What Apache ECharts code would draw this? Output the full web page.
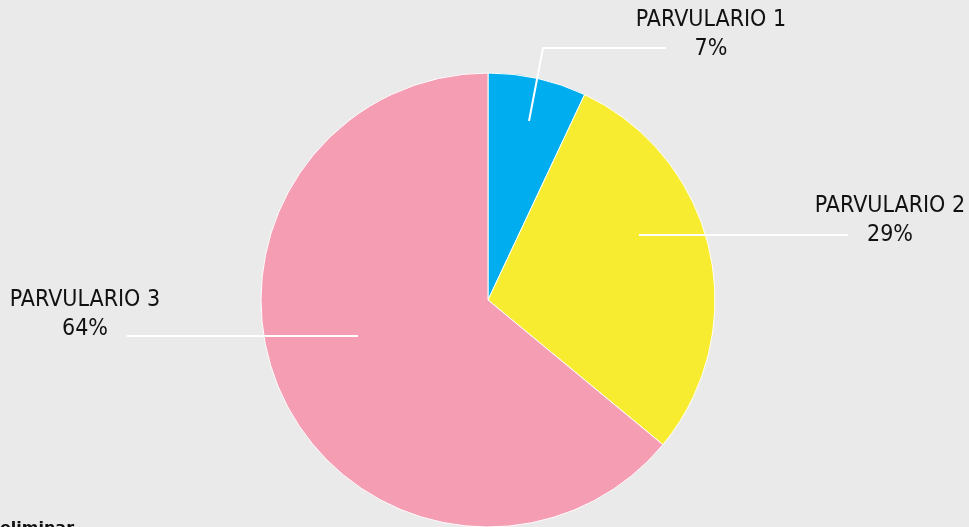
<!DOCTYPE html>
<html>
<head>
<meta charset="utf-8">
<script src="https://cdn.jsdelivr.net/npm/echarts@6/dist/echarts.min.js"></script>
<style>
  html, body { margin: 0; padding: 0; background: #eaeaea; }
  #chart { width: 969px; height: 527px; }
</style>
</head>
<body>
<div id="chart"></div>
<script>
// datos
var categorias = ["PARVULARIO 1", "PARVULARIO 2", "PARVULARIO 3"];
var porcentajes = [7, 29, 64];
var colores = ["#00aeef", "#f8ec31", "#f59db3"];

// posicion de las etiquetas (centro del texto) y de sus lineas
var etiquetas = [
  { x: 711, y: 35, linea: [[529, 121], [543, 48], [666, 48]] },
  { x: 890, y: 221, linea: [[639, 235], [744, 235], [848, 235]] },
  { x: 85, y: 315, linea: [[358, 336], [243, 336], [127, 336]] }
];

var chart = echarts.init(document.getElementById("chart"));

var datos = categorias.map(function (c, i) {
  return { name: c, value: porcentajes[i], itemStyle: { color: colores[i] } };
});

var option = {
  backgroundColor: "#eaeaea",
  animation: false,
  graphic: [
    {
      type: "text",
      left: 0,
      top: 521,
      style: { text: "eliminar", fontFamily: "DejaVu Sans", fontWeight: "bold", fontSize: 16, fill: "#111" }
    }
  ],
  series: [
    {
      // sectores
      type: "pie",
      z: 2,
      center: [488, 300],
      radius: [0, 227],
      startAngle: 90,
      clockwise: true,
      itemStyle: { borderColor: "#ffffff", borderWidth: 1 },
      label: { show: false },
      labelLine: { show: false },
      data: datos
    },
    {
      // etiquetas encima de los sectores
      type: "pie",
      z: 5,
      silent: true,
      center: [488, 300],
      radius: [0, 227],
      startAngle: 90,
      clockwise: true,
      itemStyle: { color: "rgba(0,0,0,0)", borderWidth: 0 },
      label: {
        show: true,
        formatter: function (p) { return p.name + "\n" + p.value + "%"; },
        fontFamily: "DejaVu Sans Condensed",
        fontSize: 23,
        lineHeight: 29,
        color: "#111",
        align: "center"
      },
      labelLine: {
        show: true,
        lineStyle: { color: "#ffffff", width: 2 }
      },
      labelLayout: function (params) {
        var e = etiquetas[params.dataIndex];
        return {
          x: e.x,
          y: e.y,
          align: "center",
          verticalAlign: "middle",
          labelLinePoints: e.linea
        };
      },
      data: categorias.map(function (c, i) {
        return { name: c, value: porcentajes[i] };
      })
    }
  ]
};

chart.setOption(option);
</script>
</body>
</html>
